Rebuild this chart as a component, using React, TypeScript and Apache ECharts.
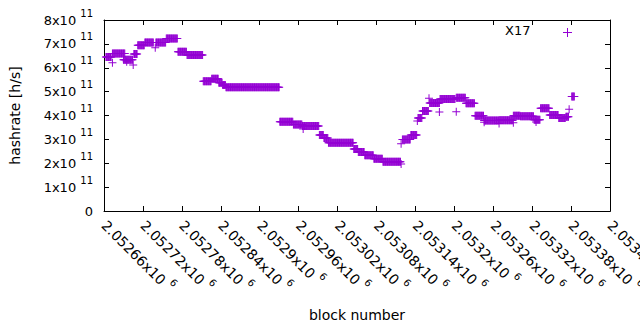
import React, { useEffect, useRef } from "react";
import * as echarts from "echarts";

// Runs of consecutive blocks sharing the same hashrate estimate
const runStartBlocks = [
  2052663, 2052673, 2052690, 2052706, 2052712, 2052723, 2052740, 2052756, 2052774,
  2052788, 2052813, 2052826, 2052837, 2052843, 2052848, 2052931, 2052952, 2052966,
  2052992, 2052999, 2053006, 2053045, 2053052, 2053062, 2053076, 2053090, 2053120,
  2053133, 2053144, 2053151, 2053162, 2053178, 2053203, 2053218, 2053232, 2053246,
  2053269, 2053291, 2053302, 2053323, 2053333, 2053347, 2053361, 2053372, 2053381,
];
const runEndBlocks = [
  2052671, 2052692, 2052704, 2052711, 2052722, 2052736, 2052755, 2052773, 2052787,
  2052812, 2052825, 2052836, 2052842, 2052847, 2052930, 2052951, 2052965, 2052991,
  2052998, 2053005, 2053044, 2053051, 2053061, 2053075, 2053089, 2053117, 2053132,
  2053142, 2053150, 2053160, 2053177, 2053201, 2053217, 2053231, 2053245, 2053268,
  2053290, 2053301, 2053322, 2053332, 2053346, 2053360, 2053371, 2053376, 2053385,
];
const runHashrates = [
  6.45e11, 6.6e11, 6.34e11, 6.58e11, 6.94e11, 7.06e11, 7.06e11, 7.22e11, 6.67e11,
  6.53e11, 5.43e11, 5.54e11, 5.37e11, 5.28e11, 5.18e11, 3.74e11, 3.62e11, 3.56e11,
  3.18e11, 3.06e11, 2.86e11, 2.6e11, 2.47e11, 2.33e11, 2.19e11, 2.06e11, 3.0e11,
  3.18e11, 3.9e11, 4.19e11, 4.52e11, 4.69e11, 4.74e11, 4.51e11, 3.99e11, 3.79e11,
  3.8e11, 3.99e11, 3.97e11, 3.82e11, 4.3e11, 4.02e11, 3.9e11, 3.95e11, 4.8e11,
];
// Isolated points away from the runs
const outlierBlocks = [
  2052673, 2052695, 2052705, 2052739, 2052967, 2053118, 2053118, 2053143, 2053161,
  2053177, 2053203, 2053246, 2053269, 2053291, 2053326, 2053377,
];
const outlierHashrates = [
  6.21e11, 6.25e11, 6.12e11, 6.84e11, 3.43e11, 1.97e11, 2.82e11, 3.77e11, 4.72e11,
  4.15e11, 4.16e11, 3.72e11, 3.66e11, 3.7e11, 3.73e11, 4.26e11,
];

const xMin = 2052660;
const xMax = 2053440;
const xStep = 60;
const yMin = 0;
const yMax = 8e11;
const yStep = 1e11;
const seriesName = "X17";
const xTitle = "block number";
const yTitle = "hashrate [h/s]";

const COLOR = "#9400d3";
const FONT = "DejaVu Sans";
const PLUS = "path://M3.5,0h1v3.5h3.5v1h-3.5v3.5h-1v-3.5h-3.5v-1h3.5z";

function buildPoints(): number[][] {
  const pts: number[][] = [];
  for (let i = 0; i < runStartBlocks.length; i++) {
    for (let b = runStartBlocks[i]; b <= runEndBlocks[i]; b++) {
      pts.push([b, runHashrates[i]]);
    }
  }
  for (let i = 0; i < outlierBlocks.length; i++) {
    pts.push([outlierBlocks[i], outlierHashrates[i]]);
  }
  return pts;
}

const supRich = {
  sup: { fontSize: 10, fontFamily: FONT, color: "#000", verticalAlign: "top", lineHeight: 12 },
};

export default function App() {
  const ref = useRef<HTMLDivElement>(null);
  useEffect(() => {
    document.body.style.margin = "0";
    const chart = echarts.init(ref.current!, null, { renderer: "svg" });
    const lineCommon = { show: true, onZero: false, lineStyle: { color: "#000", width: 1 } };
    const tickCommon = { show: true, inside: true, length: 5, lineStyle: { color: "#000", width: 1 } };
    const legendGraphics = [
      {
        type: "text",
        left: 505,
        top: 24,
        style: { text: seriesName, fontFamily: FONT, fontSize: 13, fill: "#000" },
      },
      {
        type: "line",
        shape: { x1: 563, y1: 32.5, x2: 572, y2: 32.5 },
        style: { stroke: COLOR, lineWidth: 1 },
      },
      {
        type: "line",
        shape: { x1: 567.5, y1: 28, x2: 567.5, y2: 37 },
        style: { stroke: COLOR, lineWidth: 1 },
      },
    ];
    chart.setOption({
      animation: false,
      backgroundColor: "#fff",
      grid: {
        left: 104,
        right: 30,
        top: 20,
        bottom: 119,
        containLabel: false,
        outerBoundsMode: "none",
      },
      xAxis: [
        {
          type: "value",
          position: "bottom",
          min: xMin,
          max: xMax,
          interval: xStep,
          axisLine: lineCommon,
          axisTick: tickCommon,
          splitLine: { show: false },
          name: xTitle,
          nameLocation: "middle",
          nameGap: 97,
          nameTextStyle: { fontFamily: FONT, fontSize: 14, color: "#000" },
          axisLabel: {
            rotate: -45,
            margin: 12,
            fontFamily: FONT,
            fontSize: 14,
            color: "#000",
            lineHeight: 24,
            showMaxLabel: true,
            showMinLabel: true,
            hideOverlap: false,
            formatter: (v: number) => `${+(v / 1e6).toFixed(5)}x10 {sup|6}`,
            rich: supRich,
          },
        },
        {
          type: "value",
          position: "top",
          min: xMin,
          max: xMax,
          interval: xStep,
          show: true,
          axisLine: lineCommon,
          axisTick: tickCommon,
          splitLine: { show: false },
          axisLabel: { show: false },
        },
      ],
      yAxis: [
        {
          type: "value",
          position: "left",
          min: yMin,
          max: yMax,
          interval: yStep,
          axisLine: lineCommon,
          axisTick: tickCommon,
          splitLine: { show: false },
          name: yTitle,
          nameLocation: "middle",
          nameGap: 82,
          nameTextStyle: { fontFamily: FONT, fontSize: 14, color: "#000" },
          axisLabel: {
            margin: 11,
            fontFamily: FONT,
            fontSize: 13,
            color: "#000",
            lineHeight: 24,
            showMaxLabel: true,
            showMinLabel: true,
            hideOverlap: false,
            formatter: (v: number) => (v === 0 ? "0" : `${Math.round(v / 1e11)}x10 {sup|11}`),
            rich: supRich,
          },
        },
        {
          type: "value",
          position: "right",
          min: yMin,
          max: yMax,
          interval: yStep,
          show: true,
          axisLine: lineCommon,
          axisTick: tickCommon,
          splitLine: { show: false },
          axisLabel: { show: false },
        },
      ],
      series: [
        {
          name: seriesName,
          type: "scatter",
          xAxisIndex: 0,
          yAxisIndex: 0,
          symbol: PLUS,
          symbolSize: 8,
          itemStyle: { color: COLOR, opacity: 1 },
          data: buildPoints(),
        },
        {
          name: "mirror",
          type: "scatter",
          xAxisIndex: 1,
          yAxisIndex: 1,
          silent: true,
          data: [],
        },
      ],
      graphic: legendGraphics,
    });
    // Plot frame, placed through the chart's own scales
    const topLeft = chart.convertToPixel({ gridIndex: 0 }, [xMin, yMax]) as number[];
    const bottomRight = chart.convertToPixel({ gridIndex: 0 }, [xMax, yMin]) as number[];
    if (topLeft && bottomRight) {
      const x0 = Math.round(topLeft[0]) + 0.5;
      const y0 = Math.round(topLeft[1]) + 0.5;
      const x1 = Math.round(bottomRight[0]) + 0.5;
      const y1 = Math.round(bottomRight[1]) + 0.5;
      chart.setOption({
        graphic: [
          ...legendGraphics,
          {
            type: "polyline",
            silent: true,
            z: 10,
            shape: {
              points: [
                [x0, y0],
                [x1, y0],
                [x1, y1],
              ],
            },
            style: { stroke: "#000", lineWidth: 1, fill: "none" },
          },
        ],
      });
    }
    return () => chart.dispose();
  }, []);
  return (
    <div
      ref={ref}
      style={{ position: "absolute", left: 0, top: 0, width: 640, height: 330 }}
    />
  );
}
